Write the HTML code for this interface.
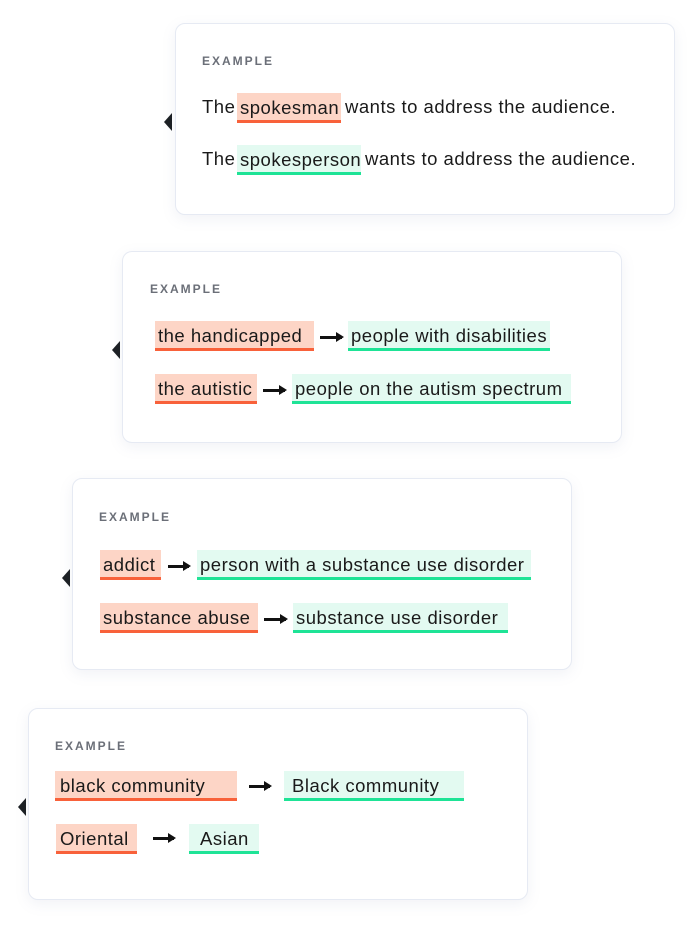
<!DOCTYPE html>
<html><head><meta charset="utf-8"><style>
body{margin:0;width:700px;height:931px;background:#fff;position:relative;overflow:hidden;font-family:"Liberation Sans",sans-serif;color:#1a1a1a}
.card{position:absolute;width:498px;height:190px;background:#fff;border:1px solid #e6eaf3;border-radius:10px;box-shadow:0 4px 14px rgba(120,130,170,0.10)}
.lab{position:absolute;font-size:12px;font-weight:bold;letter-spacing:2px;color:#6b6f78}
.c{position:absolute;height:30px;line-height:30px;font-size:18.5px;letter-spacing:0.5px;padding-left:3px;box-sizing:border-box;white-space:nowrap}
.r{background:#fdd5c6;border-bottom:3px solid #f8613a}
.g{background:#e3faf1;border-bottom:3px solid #1ee396}
.t{position:absolute;font-size:18.5px;letter-spacing:0.5px;line-height:30px;white-space:nowrap}
.ar{position:absolute;height:3px;background:#111}
.ar:after{content:"";position:absolute;right:-2px;top:-4px;border-left:8px solid #111;border-top:5.5px solid transparent;border-bottom:5.5px solid transparent}
.tri{position:absolute;width:0;height:0;border-right:8px solid #1c2024;border-top:9px solid transparent;border-bottom:9px solid transparent}
</style></head><body>
<div class="card" style="left:175px;top:23px"></div>
<div class="card" style="left:122px;top:251px"></div>
<div class="card" style="left:72px;top:478px"></div>
<div class="card" style="left:28px;top:708px"></div>
<div class="tri" style="left:164px;top:113px"></div>
<div class="tri" style="left:112px;top:341px"></div>
<div class="tri" style="left:62px;top:569px"></div>
<div class="tri" style="left:18px;top:798px"></div>

<div class="lab" style="left:202px;top:54px">EXAMPLE</div>
<div class="t" style="left:202px;top:92px">The</div>
<div class="c r" style="left:237px;top:93px;width:104px">spokesman</div>
<div class="t" style="left:345px;top:92px">wants to address the audience.</div>
<div class="t" style="left:202px;top:144px">The</div>
<div class="c g" style="left:237px;top:145px;width:124px">spokesperson</div>
<div class="t" style="left:365px;top:144px">wants to address the audience.</div>

<div class="lab" style="left:150px;top:282px">EXAMPLE</div>
<div class="c r" style="left:155px;top:321px;width:159px">the handicapped</div>
<div class="ar" style="left:320px;top:336px;width:22px"></div>
<div class="c g" style="left:348px;top:321px;width:202px">people with disabilities</div>
<div class="c r" style="left:155px;top:374px;width:102px">the autistic</div>
<div class="ar" style="left:263px;top:389px;width:22px"></div>
<div class="c g" style="left:292px;top:374px;width:279px">people on the autism spectrum</div>

<div class="lab" style="left:99px;top:510px">EXAMPLE</div>
<div class="c r" style="left:100px;top:550px;width:61px">addict</div>
<div class="ar" style="left:168px;top:565px;width:21px"></div>
<div class="c g" style="left:197px;top:550px;width:334px">person with a substance use disorder</div>
<div class="c r" style="left:100px;top:603px;width:158px">substance abuse</div>
<div class="ar" style="left:264px;top:618px;width:22px"></div>
<div class="c g" style="left:293px;top:603px;width:215px">substance use disorder</div>

<div class="lab" style="left:55px;top:739px">EXAMPLE</div>
<div class="c r" style="left:55px;top:771px;width:182px;padding-left:5px">black community</div>
<div class="ar" style="left:249px;top:785px;width:21px"></div>
<div class="c g" style="left:284px;top:771px;width:180px;padding-left:8px">Black community</div>
<div class="c r" style="left:56px;top:824px;width:81px;padding-left:4px">Oriental</div>
<div class="ar" style="left:153px;top:837px;width:21px"></div>
<div class="c g" style="left:189px;top:824px;width:70px;padding-left:11px">Asian</div>
</body></html>
